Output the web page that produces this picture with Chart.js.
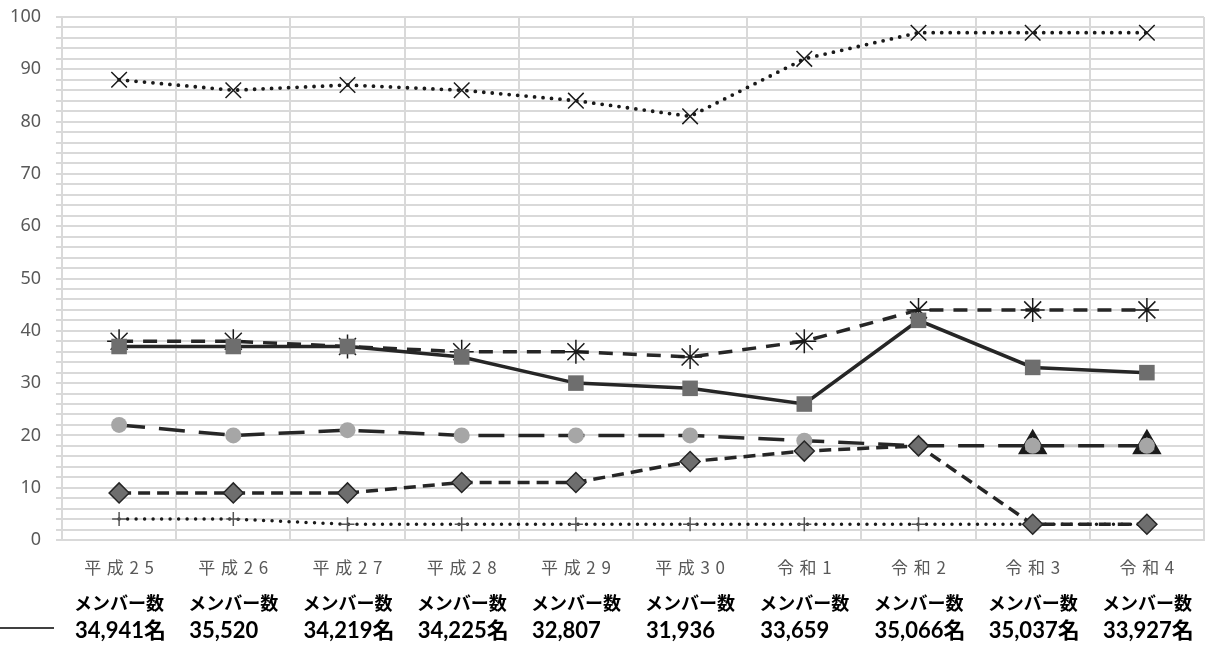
<!DOCTYPE html>
<html>
<head>
<meta charset="utf-8">
<script src="https://cdn.jsdelivr.net/npm/chart.js@4/dist/chart.umd.min.js"></script>
<style>
  html, body { margin: 0; padding: 0; background: #fff; }
  #wrap { width: 1221px; height: 646px; }
</style>
</head>
<body>
<div id="wrap"><canvas id="chart" width="1221" height="646"></canvas></div>
<script>
const years = ["平成25", "平成26", "平成27", "平成28", "平成29", "平成30", "令和1", "令和2", "令和3", "令和4"];
const memberTitle = "メンバー数";
const memberCounts = ["34,941名", "35,520", "34,219名", "34,225名", "32,807", "31,936", "33,659", "35,066名", "35,037名", "33,927名"];

const crossSeries = [88, 86, 87, 86, 84, 81, 92, 97, 97, 97];
const starSeries = [38, 38, 37, 36, 36, 35, 38, 44, 44, 44];
const squareSeries = [37, 37, 37, 35, 30, 29, 26, 42, 33, 32];
const circleSeries = [22, 20, 21, 20, 20, 20, 19, 18, 18, 18];
const triangleSeries = [null, null, null, null, null, null, null, null, 18, 18];
const diamondSeries = [9, 9, 9, 11, 11, 15, 17, 18, 3, 3];
const plusSeries = [4, 4, 3, 3, 3, 3, 3, 3, 3, 3];

const yTicks = { min: 0, max: 100, step: 2, labelEvery: 10 };

const ctx = document.getElementById("chart").getContext("2d");

// member count rows under the x axis + the little stub line at the left
const memberRows = {
  id: "memberRows",
  afterDraw(chart) {
    const c = chart.ctx;
    const x = chart.scales.x;
    const base = chart.chartArea.bottom;
    c.save();
    c.fillStyle = "#000";
    c.textAlign = "left";
    c.textBaseline = "middle";
    years.forEach((y, i) => {
      const cx = x.getPixelForValue(i);
      c.font = 'bold 18px "Noto Sans CJK JP"';
      c.fillText(memberTitle, cx - 45, base + 63);
      c.font = 'bold 22px Lato, "Noto Sans CJK JP"';
      c.fillText(memberCounts[i], cx - 44, base + 91);
    });
    c.strokeStyle = "#000";
    c.lineWidth = 1.5;
    c.beginPath();
    c.moveTo(0, base + 88);
    c.lineTo(54, base + 88);
    c.stroke();
    c.restore();
  }
};

const chart = new Chart(ctx, {
  type: "line",
  data: {
    labels: years,
    datasets: [
      {
        data: squareSeries,
        borderColor: "#262626", borderWidth: 3.5,
        pointStyle: "rect", pointRadius: 11, pointBackgroundColor: "#6e6e6e",
        pointBorderColor: "#6e6e6e", pointBorderWidth: 0
      },
      {
        data: diamondSeries,
        borderColor: "#262626", borderWidth: 3.5, borderDash: [12, 7],
        pointStyle: "rectRot", pointRadius: 10, pointBackgroundColor: "#6e6e6e",
        pointBorderColor: "#262626", pointBorderWidth: 1.5
      },
      {
        data: circleSeries,
        borderColor: "#262626", borderWidth: 3.5, borderDash: [26, 14],
        pointStyle: "circle", pointRadius: 8, pointBackgroundColor: "#a6a6a6",
        pointBorderColor: "#a6a6a6", pointBorderWidth: 0
      },
      {
        data: triangleSeries,
        borderColor: "#c8c8c8", borderWidth: 3,
        pointStyle: "triangle", pointRadius: 13, pointBackgroundColor: "#8c8c8c",
        pointBorderColor: "#1a1a1a", pointBorderWidth: 4
      },
      {
        data: starSeries,
        borderColor: "#262626", borderWidth: 3.5, borderDash: [14, 10],
        pointStyle: "star", pointRadius: 12, pointBackgroundColor: "#000",
        pointBorderColor: "#1a1a1a", pointBorderWidth: 1.5
      },
      {
        data: crossSeries,
        borderColor: "#1a1a1a", borderWidth: 3.8, borderDash: [0, 8.5], borderCapStyle: "round",
        pointStyle: "crossRot", pointRadius: 11, pointBackgroundColor: "#000",
        pointBorderColor: "#1a1a1a", pointBorderWidth: 1.5
      },
      {
        data: plusSeries,
        borderColor: "#1a1a1a", borderWidth: 3.5, borderDash: [0, 8.5], borderCapStyle: "round",
        pointStyle: "cross", pointRadius: 7, pointBackgroundColor: "#555",
        pointBorderColor: "#555", pointBorderWidth: 1.5
      }
    ]
  },
  options: {
    responsive: false,
    animation: false,
    layout: { padding: { top: 15, right: 11, left: 0, bottom: 0 } },
    elements: { line: { tension: 0, fill: false } },
    plugins: { legend: { display: false }, tooltip: { enabled: false } },
    scales: {
      x: {
        offset: true,
        grid: { offset: true, color: "#d9d9d9", lineWidth: 2, drawTicks: false },
        border: { color: "#d9d9d9", width: 2 },
        ticks: {
          color: "#595959",
          font: { family: '"Noto Sans CJK JP", "Noto Sans"', size: 17 },
          padding: 17,
          maxRotation: 0,
          autoSkip: false,
          callback: (v, i) => years[i].split("").join("\u2004")
        },
        afterFit: s => { s.height = 106; }
      },
      y: {
        min: yTicks.min,
        max: yTicks.max,
        grid: { color: "#d9d9d9", lineWidth: 2, tickLength: 6 },
        border: { color: "#d9d9d9", width: 2 },
        ticks: {
          stepSize: yTicks.step,
          autoSkip: false,
          color: "#595959",
          font: { family: '"Noto Sans", "Open Sans"', size: 18 },
          padding: 15,
          callback: v => (v % yTicks.labelEvery === 0 ? v : "")
        },
        afterFit: s => {
          s.width = 62;
          // tick padding would otherwise push the plot area down
          s.paddingTop = 0;
          s.paddingBottom = 0;
        }
      }
    }
  },
  plugins: [memberRows]
});
</script>
</body>
</html>
